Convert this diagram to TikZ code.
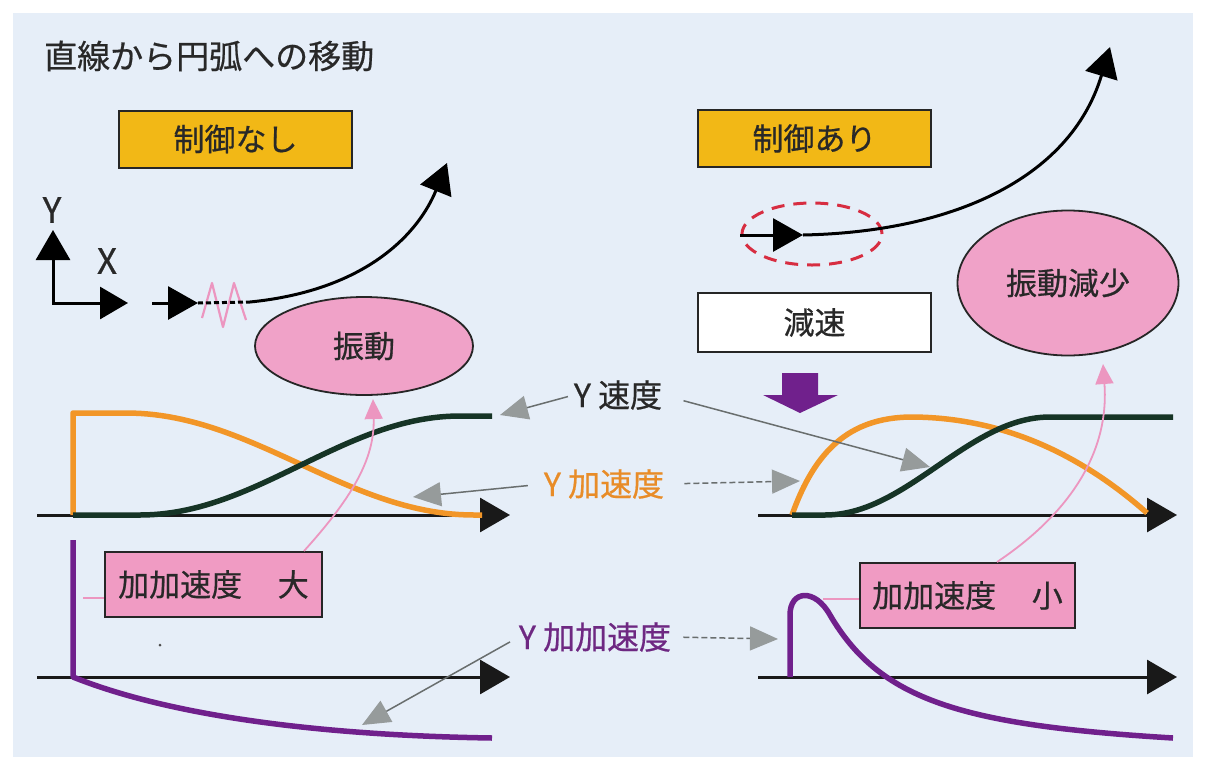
\documentclass[tikz,border=0pt]{standalone}
\usepackage{fontspec}
\setmainfont{Noto Sans CJK JP}[FakeBold=0.6]
\usetikzlibrary{arrows.meta,shapes.geometric}
\definecolor{panelbg}{RGB}{230,238,248}
\definecolor{gold}{RGB}{242,184,22}
\definecolor{pinkfill}{RGB}{240,162,200}
\definecolor{pinkbox}{RGB}{240,155,195}
\definecolor{pinkline}{RGB}{236,150,192}
\definecolor{orangec}{RGB}{242,150,40}
\definecolor{greenc}{RGB}{22,52,38}
\definecolor{purplec}{RGB}{112,32,140}
\definecolor{reddash}{RGB}{215,45,65}
\definecolor{grayline}{RGB}{105,110,110}
\definecolor{grayhead}{RGB}{150,155,155}
\definecolor{textc}{RGB}{40,40,40}
\definecolor{orangetext}{RGB}{232,140,40}
\definecolor{purpletext}{RGB}{110,40,130}
\begin{document}
\begin{tikzpicture}[x=1pt,y=-1pt,
  txt/.style={font=\fontsize{31}{36}\selectfont, text=textc, inner sep=0pt},
  goldbox/.style={txt, draw=black!85, line width=2pt, fill=gold, minimum width=233pt, minimum height=57pt},
  pinkellipse/.style={txt, ellipse, draw=black!85, line width=1.8pt, fill=pinkfill, inner sep=0pt},
  jerkbox/.style={txt, draw=black!85, line width=2pt, fill=pinkbox, minimum height=65pt},
  axisline/.style={line width=3pt, black!90, -{Triangle[length=30pt,width=34pt]}},
  pathline/.style={line width=3pt, black},
  bigtip/.style={-{Triangle[length=30pt,width=33pt]}},
  curveline/.style={line width=5.5pt, line join=round},
  pointer/.style={grayline, line width=1.5pt, -{Triangle[length=28pt,width=24pt,color=grayhead]}},
  dpointer/.style={pointer, dash pattern=on 6pt off 3pt},
  pinkarrow/.style={pinkline, line width=1.8pt, -{Triangle[length=20pt,width=18pt]}}
]
\useasboundingbox (0,0) rectangle (1205,761);
\fill[white] (0,0) rectangle (1205,761);
\fill[panelbg] (13,13) rectangle (1193,757);

% title
\node[txt, anchor=west, font=\fontsize{33}{38}\selectfont] (title) at (44,56) {直線から円弧への移動};

% boxes
\node[goldbox] (nocontrol) at (235.5,139) {制御なし};
\node[goldbox] (withcontrol) at (814.5,138.5) {制御あり};
\node[goldbox, fill=white, minimum height=59pt] (decel) at (814.5,322.5) {減速};

% XY axes
\node[txt, font=\fontsize{35}{40}\selectfont] (ylab) at (52,210) {Y};
\node[txt, font=\fontsize{35}{40}\selectfont] (xlab) at (107,261) {X};
\coordinate (origin) at (53,303);
\coordinate (ytip) at (53,230);
\coordinate (xtip) at (128,303);
\draw[line width=3pt, {Triangle[length=30pt,width=34pt]}-{Triangle[length=28pt,width=32pt]}] (ytip) -- (origin) -- (xtip);

% left path (no control)
\coordinate (la0) at (152,303);
\coordinate (la1) at (198,303);
\coordinate (la2) at (250,302);
\coordinate (la3) at (447,163);
\draw[pinkline, line width=2.2pt, line join=round] (202,318) -- (212,283) -- (223,327) -- (234,283) -- (246,320);
\draw[pathline, bigtip] (la0) -- (la1);
\draw[pathline, dash pattern=on 5pt off 3pt] (la1) -- (la2);
\draw[pathline, bigtip] (la2) .. controls (370,290) and (420,230) .. (la3);

\node[pinkellipse, minimum width=218pt, minimum height=98pt] (vib) at (364,346) {振動};

% right path (with control)
\node[ellipse, draw=reddash, line width=3pt, dash pattern=on 13pt off 9pt, minimum width=140pt, minimum height=62pt, inner sep=0pt] (focus) at (812,234) {};
\coordinate (ra0) at (740,235);
\coordinate (ra1) at (803,235);
\coordinate (ra2) at (1110,47);
\draw[pathline, bigtip] (ra0) -- (ra1);
\draw[pathline, bigtip] (ra1) .. controls (950,232) and (1070,180) .. (ra2);

\node[pinkellipse, minimum width=221pt, minimum height=145pt] (vibless) at (1068,283) {振動減少};

% purple block arrow
\fill[purplec] (782,373) -- (818,373) -- (818,395) -- (838,395) -- (800,413) -- (763,395) -- (782,395) -- cycle;

% chart axes
\draw[axisline] (37,515) -- (510,515);
\draw[axisline] (37,677) -- (510,677);
\draw[axisline] (758,515) -- (1177,515);
\draw[axisline] (758,677) -- (1177,677);

% left curves
\draw[orangec, curveline] (73,515) -- (73,413) -- (126,413) -- plot[domain=126:474, samples=50] (\x,{413+51*(1-cos(0.51724*(\x-126)))}) -- (482,515);
\draw[greenc, curveline] (73,515) -- (140,515) -- plot[domain=140:460, samples=50] (\x,{515-49.5*(1-cos(0.5625*(\x-140)))}) -- (492,416);
\draw[purplec, curveline] (73,540) -- (73,677) .. controls (160,712) and (300,735) .. (492,738);

% right curves
\draw[orangec, curveline] (792,515) .. controls (815,450) and (850,418) .. (910,417) .. controls (990,417) and (1070,445) .. (1147,513);
\draw[greenc, curveline] (792,515) -- (825,515) -- plot[domain=825:1050, samples=50] (\x,{515-49*(1-cos(0.8*(\x-825)))}) -- (1173,417);
\draw[purplec, curveline] (790,677) -- (790,615) .. controls (790,590) and (815,588) .. (830,615) .. controls (880,700) and (960,725) .. (1173,738);

% jerk boxes
\node[jerkbox, minimum width=217pt] (jbig) at (213.5,584.5) {加加速度\hspace{1.15em}大};
\node[jerkbox, minimum width=215pt] (jsmall) at (967.5,595.5) {加加速度\hspace{1.15em}小};
\coordinate (jbigend) at (83,598);
\coordinate (jsmallend) at (823,599);
\draw[pinkline, line width=1.5pt] (jbig.west |- jbigend) -- (jbigend);
\draw[pinkline, line width=1.5pt] (jsmall.west |- jsmallend) -- (jsmallend);

% pink arrows
\coordinate (vibtip) at (373,399);
\coordinate (vibless tip) at (1103,364);
\draw[pinkarrow] ([xshift=-19pt]jbig.north east) .. controls (350,500) and (375,460) .. (vibtip);
\draw[pinkarrow] ([xshift=29.5pt]jsmall.north) .. controls (1060,520) and (1110,460) .. (vibless tip);

% labels with pointers
\node[txt, text=textc, font=\fontsize{32}{36}\selectfont] (yv) at (618,395) {Y 速度};
\node[txt, text=orangetext, font=\fontsize{32}{36}\selectfont] (ya) at (604,484) {Y 加速度};
\node[txt, text=purpletext, font=\fontsize{32}{36}\selectfont] (yj) at (595,637) {Y 加加速度};
\coordinate (yvL) at (500,415);
\coordinate (yvR) at (930,467);
\coordinate (yaL) at (413,497);
\coordinate (yaR) at (800,481);
\coordinate (yjL) at (362,725);
\coordinate (yjR) at (778,639);
\draw[pointer, shorten <=6pt] (yv.west) -- (yvL);
\draw[pointer, shorten <=22pt] (yv.east) -- (yvR);
\draw[pointer, shorten <=16pt] (ya.west) -- (yaL);
\draw[dpointer, shorten <=20pt] (ya.east) -- (yaR);
\draw[pointer, shorten <=10pt] (yj.west) -- (yjL);
\draw[dpointer, shorten <=12pt] (yj.east) -- (yjR);

% speck
\fill[black!70] (160,645) circle (1.5pt);
\end{tikzpicture}
\end{document}
